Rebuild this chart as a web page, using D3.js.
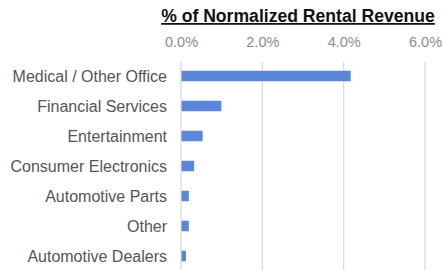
<!DOCTYPE html>
<html><head><meta charset="utf-8">
<script src="https://cdn.jsdelivr.net/npm/d3@7/dist/d3.min.js"></script>
<style>body{margin:0;background:#fff}svg{display:block}</style>
</head><body>
<svg id="c" width="444" height="270"></svg>
<script>
const categories = ["Medical / Other Office","Financial Services","Entertainment","Consumer Electronics","Automotive Parts","Other","Automotive Dealers"];
const values = [4.16, 0.98, 0.52, 0.31, 0.18, 0.18, 0.11];
const ticks = [0, 2, 4, 6];
const title = "% of Normalized Rental Revenue";

const svg = d3.select("#c");
const x = d3.scaleLinear().domain([0, 6]).range([181, 425]);
const y = d3.scaleBand().domain(categories).range([61, 271]).paddingInner(0.65).paddingOuter(0.325);

// gridlines
svg.append("g").selectAll("line").data(ticks).join("line")
  .attr("x1", d => x(d)).attr("x2", d => x(d))
  .attr("y1", 62).attr("y2", 270)
  .attr("stroke", "#dcdcdc").attr("stroke-width", 1.3);

// bars
svg.append("g").selectAll("rect").data(values).join("rect")
  .attr("x", x(0) + 0.5).attr("y", (d, i) => y(categories[i]))
  .attr("width", d => x(d) - x(0)).attr("height", y.bandwidth())
  .attr("fill", "#5b87d8");

// x axis labels on top
const xAxis = d3.axisTop(x).tickValues(ticks).tickFormat(d => d3.format(".1f")(d) + "%").tickSize(0);
const gx = svg.append("g").attr("transform", "translate(0,50)").call(xAxis);
gx.select(".domain").remove();
gx.selectAll("text").attr("fill", "#8c8c8c").attr("font-family", "Liberation Sans, Arial, sans-serif").attr("font-size", 14.5).attr("dy", 0);

// y axis labels
const yAxis = d3.axisLeft(y).tickSize(0).tickPadding(0);
const gy = svg.append("g").attr("transform", "translate(167,0)").call(yAxis);
gy.select(".domain").remove();
gy.selectAll("text").attr("fill", "#555").attr("font-family", "Liberation Sans, Arial, sans-serif").attr("font-size", 16).attr("dy", "0.36em");

// title
svg.append("text").attr("x", 298).attr("y", 22).attr("text-anchor", "middle")
  .attr("font-family", "Liberation Sans, Arial, sans-serif").attr("font-weight", "bold")
  .attr("font-size", 17.6).attr("fill", "#111").attr("text-decoration", "underline").text(title);
</script>
</body></html>
